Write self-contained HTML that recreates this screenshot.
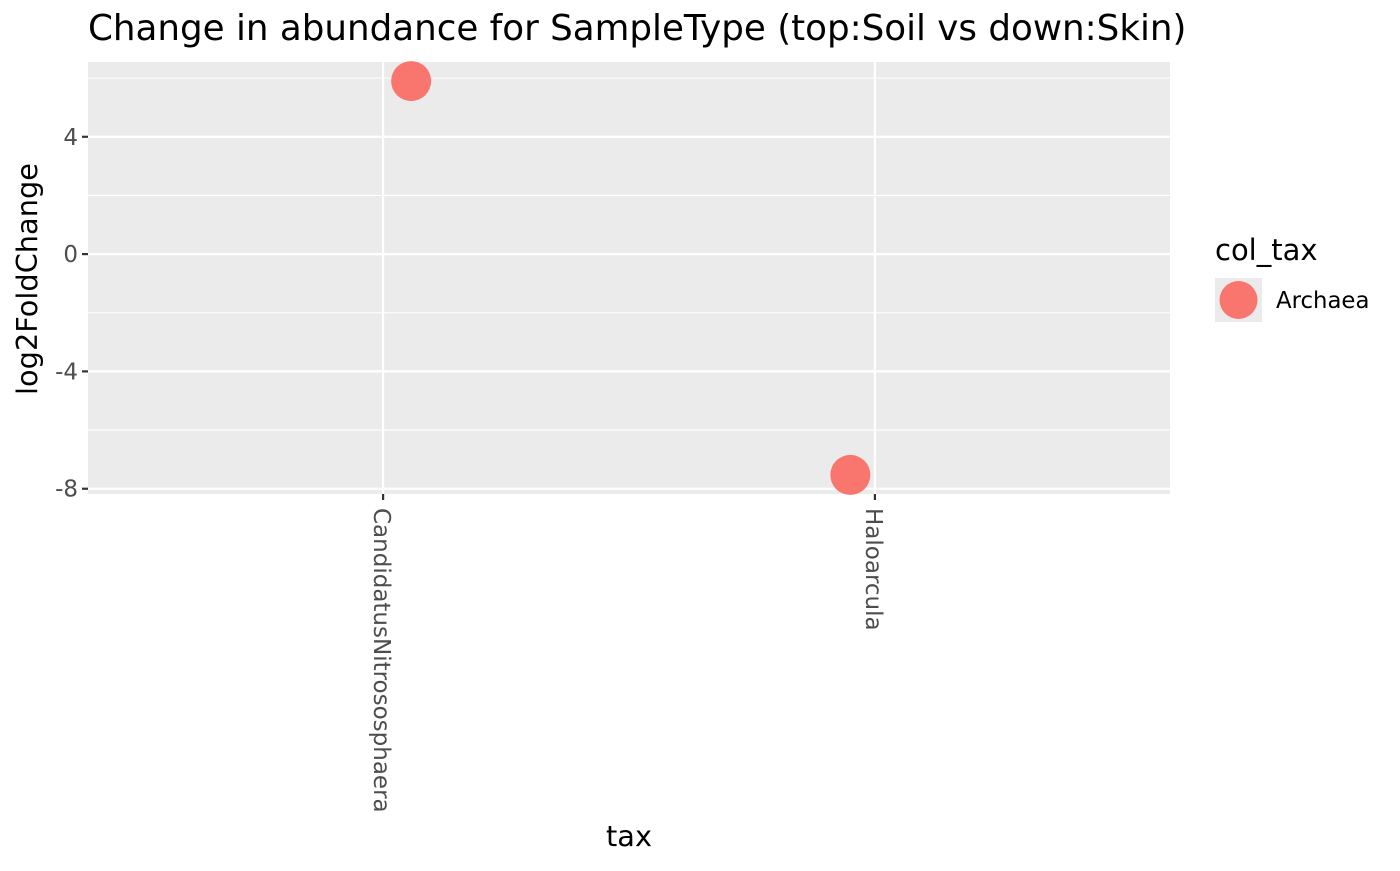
<!DOCTYPE html>
<html><head><meta charset="utf-8"><style>
body{margin:0;background:#fff;}
svg text{font-family:"DejaVu Sans","Liberation Sans",sans-serif;}
</style></head><body>
<svg id="chart" width="1400" height="866" xmlns="http://www.w3.org/2000/svg">
<rect width="1400" height="866" fill="#fff"/>
<text x="88" y="40" font-size="35.7" fill="#000">Change in abundance for SampleType (top:Soil vs down:Skin)</text>
<rect x="88" y="62" width="1082" height="432" fill="#ebebeb"/>
<g id="grid"></g>
<g id="axes"></g>
<g id="points"></g>
<text transform="translate(37,279) rotate(-90)" text-anchor="middle" font-size="28.8" fill="#000">log2FoldChange</text>
<text x="629" y="846" text-anchor="middle" font-size="28.8" fill="#000">tax</text>
<g>
<text x="1215" y="260" font-size="29" fill="#000">col_tax</text>
<rect x="1215" y="278" width="47" height="44" fill="#ebebeb"/>
<circle cx="1238.5" cy="300" r="19" fill="#F8766D"/>
<text x="1276" y="308" font-size="22.8" fill="#000">Archaea</text>
</g>
</svg>
<script>
const categories = ["CandidatusNitrososphaera","Haloarcula"];
const values = [5.9, -7.53];
const jitter = [0.057, -0.05];
const yTicks = [4, 0, -4, -8];
const yTickLabels = ["4","0","-4","-8"];
const yMinor = [6, 2, -2, -6];

const NS="http://www.w3.org/2000/svg";
const px0=88, px1=1170, py0=62, py1=494;
const xMin=0.4, xMax=categories.length+0.6;
const yMin=-8.18, yMax=6.55;
function xs(v){return px0+(v-xMin)/(xMax-xMin)*(px1-px0);}
function ys(v){return py1-(v-yMin)/(yMax-yMin)*(py1-py0);}
function mk(tag,attrs,parent){const e=document.createElementNS(NS,tag);for(const k in attrs)e.setAttribute(k,attrs[k]);parent.appendChild(e);return e;}
const grid=document.getElementById('grid'), axes=document.getElementById('axes'), pts=document.getElementById('points');
yMinor.forEach(v=>{const l=mk('line',{x1:px0,x2:px1,y1:ys(v),y2:ys(v),stroke:'#fff','stroke-width':1.1},grid);

});
yTicks.forEach((v,i)=>{const l=mk('line',{x1:px0,x2:px1,y1:ys(v),y2:ys(v),stroke:'#fff','stroke-width':2.2},grid);


const t=mk('line',{x1:px0-6,x2:px0,y1:ys(v),y2:ys(v),stroke:'#333','stroke-width':2.2},axes);


const tx=mk('text',{x:px0-10,y:ys(v)+8,'text-anchor':'end','font-size':23,fill:'#4d4d4d'},axes);
tx.textContent=yTickLabels[i];

});
categories.forEach((c,i)=>{const x=xs(i+1);
const l=mk('line',{x1:x,x2:x,y1:py0,y2:py1,stroke:'#fff','stroke-width':2.2},grid);


const t=mk('line',{x1:x,x2:x,y1:py1,y2:py1+6,stroke:'#333','stroke-width':2.2},axes);


const tx=mk('text',{transform:`translate(${x-9},${py1+14}) rotate(90)`,'font-size':23,fill:'#4d4d4d'},axes);
tx.textContent=c;


const p=mk('circle',{cx:xs(i+1+jitter[i]),cy:ys(values[i]),r:20,fill:'#F8766D'},pts);

});
</script>
</body></html>
